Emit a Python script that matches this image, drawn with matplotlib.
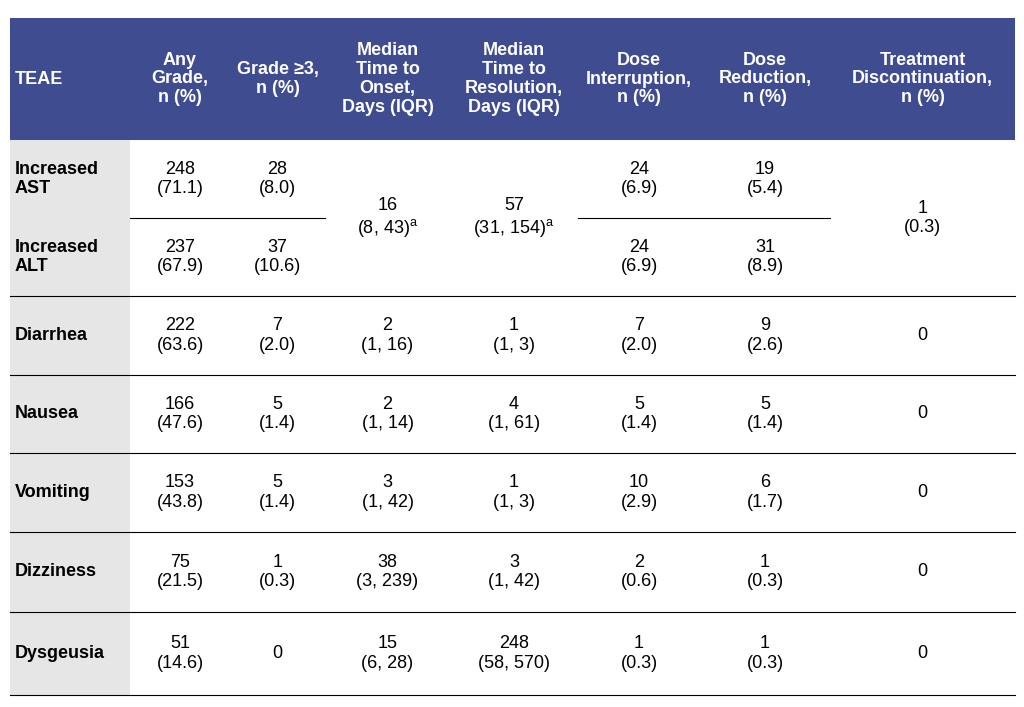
import matplotlib.pyplot as plt
from matplotlib.patches import Rectangle

plt.rcParams['font.family'] = ['Liberation Sans', 'DejaVu Sans']
plt.rcParams['mathtext.fontset'] = 'custom'
plt.rcParams['mathtext.rm'] = 'Liberation Sans'

headers = ['TEAE', 'Any\nGrade,\nn (%)', 'Grade ≥3,\nn (%)', 'Median\nTime to\nOnset,\nDays (IQR)',
           'Median\nTime to\nResolution,\nDays (IQR)', 'Dose\nInterruption,\nn (%)',
           'Dose\nReduction,\nn (%)', 'Treatment\nDiscontinuation,\nn (%)']
teae = ['Increased\nAST', 'Increased\nALT', 'Diarrhea', 'Nausea', 'Vomiting', 'Dizziness', 'Dysgeusia']
any_grade = ['248\n(71.1)', '237\n(67.9)', '222\n(63.6)', '166\n(47.6)', '153\n(43.8)', '75\n(21.5)', '51\n(14.6)']
grade3 = ['28\n(8.0)', '37\n(10.6)', '7\n(2.0)', '5\n(1.4)', '5\n(1.4)', '1\n(0.3)', '0']
onset = [None, None, '2\n(1, 16)', '2\n(1, 14)', '3\n(1, 42)', '38\n(3, 239)', '15\n(6, 28)']
resolution = [None, None, '1\n(1, 3)', '4\n(1, 61)', '1\n(1, 3)', '3\n(1, 42)', '248\n(58, 570)']
interruption = ['24\n(6.9)', '24\n(6.9)', '7\n(2.0)', '5\n(1.4)', '10\n(2.9)', '2\n(0.6)', '1\n(0.3)']
reduction = ['19\n(5.4)', '31\n(8.9)', '9\n(2.6)', '5\n(1.4)', '6\n(1.7)', '1\n(0.3)', '1\n(0.3)']
discontinuation = [None, None, '0', '0', '0', '0', '0']
# merged cells for AST + ALT
onset_merged = '16\n(8, 43)$^{\\mathrm{a}}$'
resolution_merged = '57\n(31, 154)$^{\\mathrm{a}}$'
discontinuation_merged = '1\n(0.3)'

col_edges = [10, 130, 230, 325, 450, 578, 700, 830, 1015]
row_edges = [140, 218, 296, 375, 453, 532, 612, 695]
head_top = 18
fs = 13

fig = plt.figure(figsize=(10.24, 7.07), dpi=100)
ax = fig.add_axes([0, 0, 1, 1])
ax.set_xlim(0, 1024)
ax.set_ylim(707, 0)
ax.axis('off')

ax.add_patch(Rectangle((col_edges[0], head_top), col_edges[-1] - col_edges[0], row_edges[0] - head_top,
                       color='#3f4c8f', lw=0))
ax.add_patch(Rectangle((col_edges[0], row_edges[0]), col_edges[1] - col_edges[0], row_edges[-1] - row_edges[0],
                       color='#e6e6e6', lw=0))

cx = [(col_edges[i] + col_edges[i + 1]) / 2 for i in range(len(col_edges) - 1)]
hy = (head_top + row_edges[0]) / 2
ax.text(15, hy, headers[0], color='white', weight='bold', fontsize=fs, ha='left', va='center')
for i, h in enumerate(headers[1:], start=1):
    ax.text(cx[i], hy, h, color='white', weight='bold', fontsize=fs, ha='center', va='center',
            linespacing=1.15)

cols = [any_grade, grade3, onset, resolution, interruption, reduction, discontinuation]
for r in range(len(teae)):
    y = (row_edges[r] + row_edges[r + 1]) / 2
    ax.text(15, y, teae[r], weight='bold', fontsize=fs, ha='left', va='center', linespacing=1.2)
    for c, col in enumerate(cols, start=1):
        if col[r] is not None:
            ax.text(cx[c], y, col[r], fontsize=fs, ha='center', va='center', linespacing=1.2)

ym = row_edges[1]
for c, txt in [(3, onset_merged), (4, resolution_merged), (7, discontinuation_merged)]:
    ax.text(cx[c], ym, txt, fontsize=fs, ha='center', va='center', linespacing=1.2)

# lines
ax.plot([col_edges[1], col_edges[3]], [ym, ym], color='black', lw=0.8)
ax.plot([col_edges[5], col_edges[7]], [ym, ym], color='black', lw=0.8)
for y in row_edges[2:]:
    ax.plot([col_edges[0], col_edges[-1]], [y, y], color='black', lw=0.8)

fig.savefig('out.png', dpi=100, facecolor='white')
